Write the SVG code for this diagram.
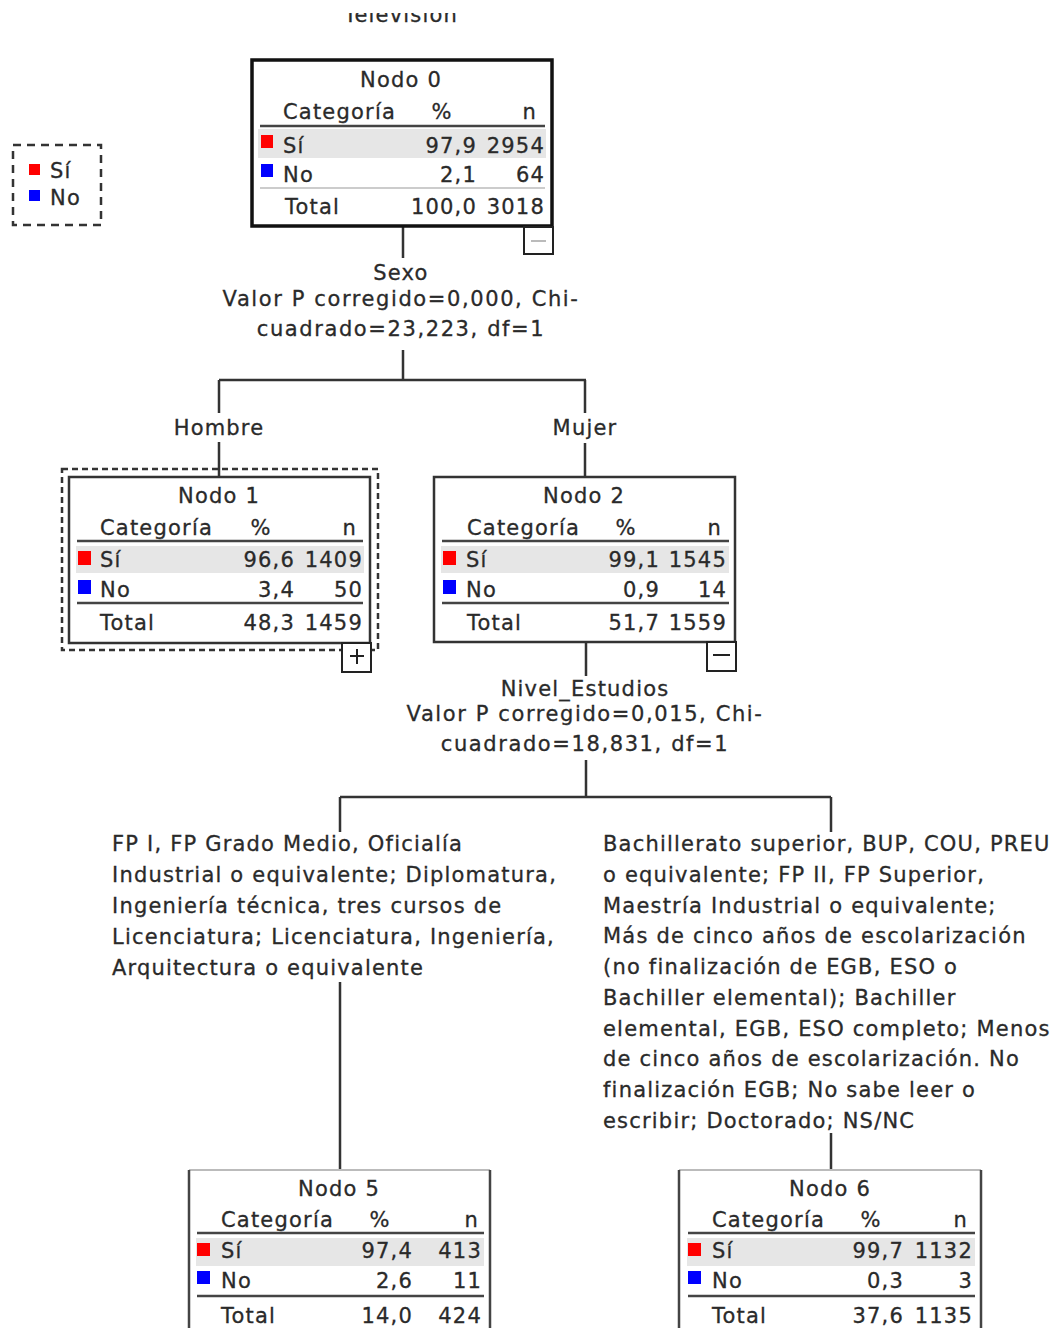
<svg xmlns="http://www.w3.org/2000/svg" width="1053" height="1328" viewBox="0 0 1053 1328">
<defs>
<style>
text{font-family:"DejaVu Sans","Liberation Sans",sans-serif;font-size:21px;fill:#2a2a2a;stroke:#2a2a2a;stroke-width:0.3px;letter-spacing:1.2px}
.c{text-anchor:middle}
.r{text-anchor:end}
.box{fill:#fff;stroke:#333;stroke-width:2.5}
.hl{stroke:#444;stroke-width:2.5}
.row{fill:#e6e6e6}
.si{fill:#ff0000}
.no{fill:#0000ff}
.con{stroke:#333;stroke-width:2.5;fill:none}
.wide{letter-spacing:1.6px}
</style>
<clipPath id="topclip"><rect x="0" y="13" width="1053" height="20"/></clipPath>
</defs>
<rect width="1053" height="1328" fill="#fff"/>
<text class="c" x="401" y="22" clip-path="url(#topclip)">Televisión</text>

<g id="connectors">
<path class="con" d="M403 227V258M403 350V380M219 380H586M219 380V413M219 442V477M585 380V413M585 443V477"/>
<path class="con" d="M586 642V676M586 760V797M340 797H831M340 797V832M831 797V832M340 982V1170M831 1133V1170"/>
</g>

<g id="legend">
<rect x="13" y="145" width="88" height="80" fill="none" stroke="#333" stroke-width="2.5" stroke-dasharray="8 6"/>
<rect class="si" x="29" y="164" width="11" height="11"/>
<text x="50" y="178">Sí</text>
<rect class="no" x="29" y="190" width="11" height="11"/>
<text x="50" y="205">No</text>
</g>

<g id="node0">
<rect x="252" y="60" width="300" height="166" fill="#fff" stroke="#111" stroke-width="3.5"/>
<text class="c" x="401" y="87">Nodo 0</text>
<text x="283" y="119">Categoría</text>
<text class="c" x="442" y="119">%</text>
<text class="r" x="537" y="119">n</text>
<line class="hl" x1="260" y1="126" x2="545" y2="126"/>
<rect class="row" x="258" y="129" width="288" height="29"/>
<rect class="si" x="261" y="135" width="12" height="13"/>
<text x="283" y="153">Sí</text>
<text class="r" x="477" y="153">97,9</text>
<text class="r" x="545" y="153">2954</text>
<rect class="no" x="261" y="164" width="12" height="13"/>
<text x="283" y="182">No</text>
<text class="r" x="477" y="182">2,1</text>
<text class="r" x="545" y="182">64</text>
<line x1="260" y1="188" x2="545" y2="188" stroke="#ccc" stroke-width="2"/>
<text x="285" y="214">Total</text>
<text class="r" x="477" y="214">100,0</text>
<text class="r" x="545" y="214">3018</text>
<rect x="524" y="227" width="29" height="27" fill="#fff" stroke="#222" stroke-width="2"/>
<line x1="531" y1="241" x2="546" y2="241" stroke="#bbb" stroke-width="2"/>
</g>

<g id="node1">
<rect x="62" y="469" width="316" height="181" fill="none" stroke="#333" stroke-width="2.5" stroke-dasharray="6 4"/>
<rect class="box" x="69" y="477" width="301" height="166"/>
<text class="c" x="219" y="503">Nodo 1</text>
<text x="100" y="535">Categoría</text>
<text class="c" x="261" y="535">%</text>
<text class="r" x="357" y="535">n</text>
<line class="hl" x1="77" y1="541" x2="363" y2="541"/>
<rect class="row" x="76" y="546" width="288" height="27"/>
<rect class="si" x="78" y="551" width="13" height="14"/>
<text x="100" y="567">Sí</text>
<text class="r" x="295" y="567">96,6</text>
<text class="r" x="363" y="567">1409</text>
<rect class="no" x="78" y="580" width="13" height="14"/>
<text x="100" y="597">No</text>
<text class="r" x="295" y="597">3,4</text>
<text class="r" x="363" y="597">50</text>
<line class="hl" x1="77" y1="603" x2="363" y2="603"/>
<text x="100" y="630">Total</text>
<text class="r" x="295" y="630">48,3</text>
<text class="r" x="363" y="630">1459</text>
<rect x="342" y="643" width="29" height="29" fill="#fff" stroke="#222" stroke-width="2"/>
<path d="M350 656H364M357 649V664" stroke="#222" stroke-width="2"/>
</g>

<g id="node2">
<rect class="box" x="434" y="477" width="301" height="165"/>
<text class="c" x="584" y="503">Nodo 2</text>
<text x="467" y="535">Categoría</text>
<text class="c" x="626" y="535">%</text>
<text class="r" x="722" y="535">n</text>
<line class="hl" x1="442" y1="541" x2="729" y2="541"/>
<rect class="row" x="441" y="546" width="288" height="27"/>
<rect class="si" x="443" y="551" width="13" height="14"/>
<text x="466" y="567">Sí</text>
<text class="r" x="660" y="567">99,1</text>
<text class="r" x="727" y="567">1545</text>
<rect class="no" x="443" y="580" width="13" height="14"/>
<text x="466" y="597">No</text>
<text class="r" x="660" y="597">0,9</text>
<text class="r" x="727" y="597">14</text>
<line class="hl" x1="442" y1="603" x2="729" y2="603"/>
<text x="467" y="630">Total</text>
<text class="r" x="660" y="630">51,7</text>
<text class="r" x="727" y="630">1559</text>
<rect x="707" y="642" width="29" height="29" fill="#fff" stroke="#222" stroke-width="2"/>
<line x1="713" y1="655" x2="730" y2="655" stroke="#222" stroke-width="2"/>
</g>

<g id="split-sexo">
<text class="c" x="401" y="280">Sexo</text>
<text class="c wide" x="401" y="306">Valor P corregido=0,000, Chi-</text>
<text class="c wide" x="401" y="336">cuadrado=23,223, df=1</text>
<text class="c" x="219" y="435">Hombre</text>
<text class="c" x="585" y="435">Mujer</text>
</g>

<g id="split-estudios">
<text class="c" x="585" y="696">Nivel_Estudios</text>
<text class="c wide" x="585" y="721">Valor P corregido=0,015, Chi-</text>
<text class="c wide" x="585" y="751">cuadrado=18,831, df=1</text>
<text x="112" y="851">FP I, FP Grado Medio, Oficialía</text>
<text x="112" y="882">Industrial o equivalente; Diplomatura,</text>
<text x="112" y="913">Ingeniería técnica, tres cursos de</text>
<text x="112" y="944">Licenciatura; Licenciatura, Ingeniería,</text>
<text x="112" y="975">Arquitectura o equivalente</text>
<text x="603" y="851">Bachillerato superior, BUP, COU, PREU</text>
<text x="603" y="882">o equivalente; FP II, FP Superior,</text>
<text x="603" y="913">Maestría Industrial o equivalente;</text>
<text x="603" y="943">Más de cinco años de escolarización</text>
<text x="603" y="974">(no finalización de EGB, ESO o</text>
<text x="603" y="1005">Bachiller elemental); Bachiller</text>
<text x="603" y="1036">elemental, EGB, ESO completo; Menos</text>
<text x="603" y="1066">de cinco años de escolarización. No</text>
<text x="603" y="1097">finalización EGB; No sabe leer o</text>
<text x="603" y="1128">escribir; Doctorado; NS/NC</text>
</g>

<g id="node5">
<rect x="189" y="1170" width="301" height="170" fill="#fff" stroke="none"/>
<line x1="189" y1="1170" x2="490" y2="1170" stroke="#bbb" stroke-width="2"/>
<path d="M189 1170V1328M490 1170V1328" stroke="#444" stroke-width="2.5"/>
<text class="c" x="339" y="1196">Nodo 5</text>
<text x="221" y="1227">Categoría</text>
<text class="c" x="380" y="1227">%</text>
<text class="r" x="479" y="1227">n</text>
<line class="hl" x1="197" y1="1233" x2="484" y2="1233"/>
<rect class="row" x="196" y="1238" width="288" height="28"/>
<rect class="si" x="197" y="1243" width="13" height="13"/>
<text x="221" y="1258">Sí</text>
<text class="r" x="413" y="1258">97,4</text>
<text class="r" x="482" y="1258">413</text>
<rect class="no" x="197" y="1271" width="13" height="13"/>
<text x="221" y="1288">No</text>
<text class="r" x="413" y="1288">2,6</text>
<text class="r" x="482" y="1288">11</text>
<line class="hl" x1="197" y1="1296" x2="484" y2="1296"/>
<text x="221" y="1323">Total</text>
<text class="r" x="413" y="1323">14,0</text>
<text class="r" x="482" y="1323">424</text>
</g>

<g id="node6">
<rect x="679" y="1170" width="302" height="170" fill="#fff" stroke="none"/>
<line x1="679" y1="1170" x2="981" y2="1170" stroke="#bbb" stroke-width="2"/>
<path d="M679 1170V1328M981 1170V1328" stroke="#444" stroke-width="2.5"/>
<text class="c" x="830" y="1196">Nodo 6</text>
<text x="712" y="1227">Categoría</text>
<text class="c" x="871" y="1227">%</text>
<text class="r" x="968" y="1227">n</text>
<line class="hl" x1="688" y1="1233" x2="975" y2="1233"/>
<rect class="row" x="687" y="1238" width="288" height="28"/>
<rect class="si" x="688" y="1243" width="13" height="13"/>
<text x="712" y="1258">Sí</text>
<text class="r" x="904" y="1258">99,7</text>
<text class="r" x="973" y="1258">1132</text>
<rect class="no" x="688" y="1271" width="13" height="13"/>
<text x="712" y="1288">No</text>
<text class="r" x="904" y="1288">0,3</text>
<text class="r" x="973" y="1288">3</text>
<line class="hl" x1="688" y1="1296" x2="975" y2="1296"/>
<text x="712" y="1323">Total</text>
<text class="r" x="904" y="1323">37,6</text>
<text class="r" x="973" y="1323">1135</text>
</g>
</svg>
